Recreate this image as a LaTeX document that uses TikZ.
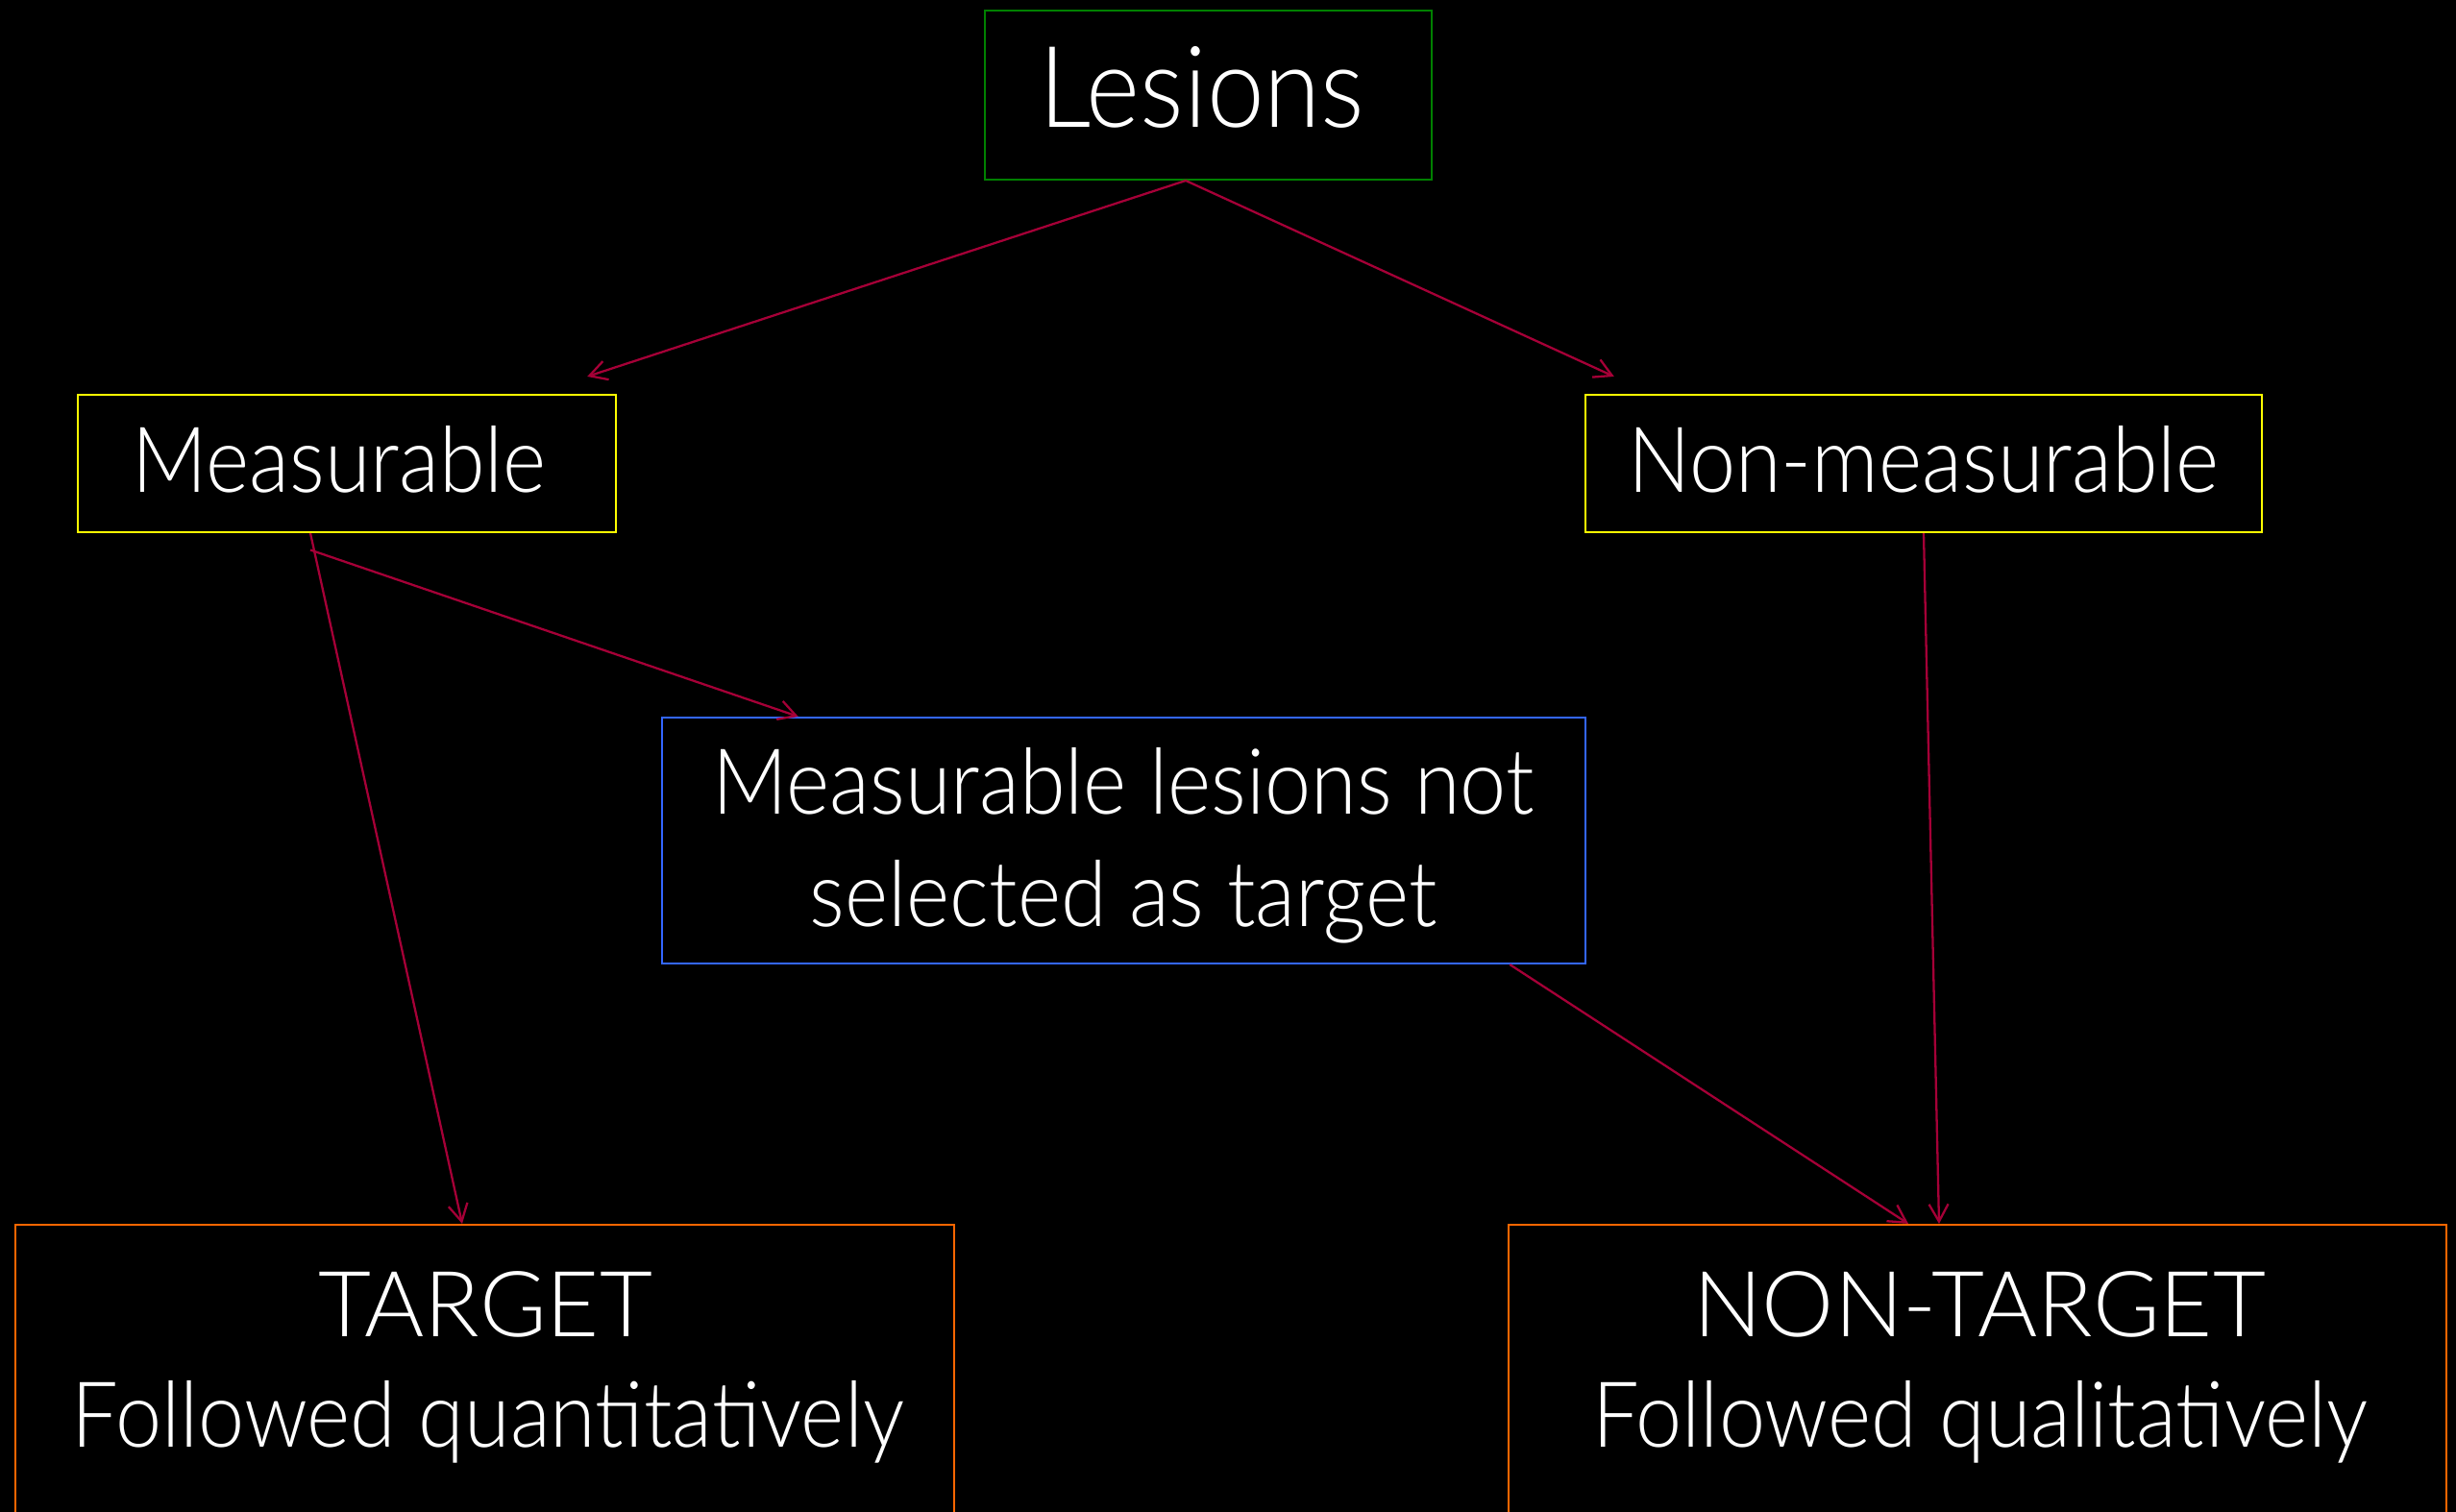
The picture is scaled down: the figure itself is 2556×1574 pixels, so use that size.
\documentclass[tikz,border=0pt]{standalone}
\usepackage{fontspec}
\setmainfont{Lato}[UprightFont=* Light, FakeStretch=0.91]
\newfontfamily\capsfont{Lato}[UprightFont=* Light]
\usetikzlibrary{arrows.meta,calc}
\definecolor{arrowred}{RGB}{165,0,55}
\definecolor{boxgreen}{RGB}{0,128,0}
\definecolor{boxyellow}{RGB}{255,255,0}
\definecolor{boxblue}{RGB}{51,102,255}
\definecolor{boxorange}{RGB}{255,102,0}
\begin{document}
\begin{tikzpicture}[x=0.01cm,y=-0.01cm,
  box/.style={draw, line width=0.55pt, inner sep=0pt, rectangle},
  lbl/.style={text=white, anchor=base, inner sep=0pt},
  big/.style={font=\fontsize{33.5}{40}\selectfont},
  mid/.style={font=\fontsize{27}{32}\selectfont},
  capmid/.style={font=\capsfont\fontsize{27}{32}\selectfont},
  link/.style={draw=arrowred, line width=0.65pt, -{Straight Barb[length=0.18cm,width=0.2cm]}}]
\fill[black] (0,0) rectangle (2556,1574);
\useasboundingbox (0,0) rectangle (2556,1574);
\clip (0,0) rectangle (2556,1574);

% boxes
\node[box, draw=boxgreen, minimum width=4.65cm, minimum height=1.76cm] (les) at (1257.5,99) {};
\node[box, draw=boxyellow, minimum width=5.6cm, minimum height=1.43cm] (meas) at (361,482.5) {};
\node[box, draw=boxyellow, minimum width=7.04cm, minimum height=1.43cm] (nonm) at (2002,482.5) {};
\node[box, draw=boxblue, minimum width=9.605cm, minimum height=2.56cm] (notsel) at (1169.75,875) {};
\node[box, draw=boxorange, minimum width=9.77cm, minimum height=3.45cm] (tgt) at (504.5,1447.5) {};
\node[box, draw=boxorange, minimum width=9.76cm, minimum height=3.45cm] (ntgt) at (2058,1447.5) {};

% texts
\node[lbl, big] (lesT) at (1251,133) {Lesions};
\node[lbl, mid] (measT) at (353,513) {Measurable};
\node[lbl, mid] (nonmT) at (2002,513) {Non-measurable};
\node[lbl, mid] (notselA) at (1169,848) {Measurable lesions not};
\node[lbl, mid] (notselB) at (1169,965) {selected as target};
\node[lbl, capmid] (tgtA) at (505,1392) {TARGET};
\node[lbl, mid] (tgtB) at (508,1507) {Followed quantitatively};
\node[lbl, capmid] (ntgtA) at (2060,1392) {NON-TARGET};
\node[lbl, mid] (ntgtB) at (2061,1507) {Followed qualitatively};

% connectors
\draw[link] ($(les.south)+(-23.5,0)$) -- ($(meas.north east)+(-31,-18)$);
\draw[link] ($(les.south)+(-23.5,0)$) -- ($(nonm.north west)+(31,-18)$);
\draw[link] ($(meas.south)+(-38,0)$) -- ($(tgt.north)+(-23.5,0)$);
\draw[link] ($(meas.south)+(-38,17.5)$) -- ($(notsel.north west)+(142.5,0)$);
\draw[link] ($(notsel.south east)+(-80,0)$) -- ($(ntgt.north)+(-72,0)$);
\draw[link] (nonm.south) -- ($(ntgt.north)+(-40,0)$);
\end{tikzpicture}
\end{document}
